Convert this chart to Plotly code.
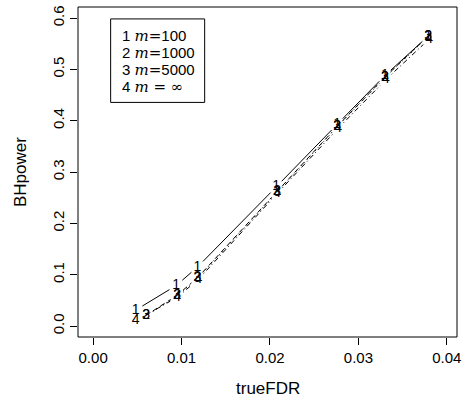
import numpy as np
import plotly.graph_objects as go

# Benjamini-Hochberg power against the true FDR for several numbers of tests m
series_labels = ["1", "2", "3", "4"]
legend_sizes = ["100", "1000", "5000", "∞"]

fdr_m100 = [0.0048, 0.0094, 0.0118, 0.0207, 0.0276, 0.0330, 0.0379]
pow_m100 = [0.031, 0.079, 0.115, 0.271, 0.393, 0.488, 0.565]

fdr_m1000 = [0.0060, 0.0095, 0.0118, 0.0208, 0.0276, 0.0330, 0.0379]
pow_m1000 = [0.021, 0.060, 0.094, 0.262, 0.389, 0.485, 0.565]

fdr_m5000 = [0.0060, 0.0095, 0.0118, 0.0208, 0.0276, 0.0330, 0.0379]
pow_m5000 = [0.020, 0.059, 0.093, 0.261, 0.388, 0.484, 0.564]

fdr_minf = [0.0048, 0.0095, 0.0119, 0.0208, 0.0277, 0.0331, 0.0380]
pow_minf = [0.010, 0.056, 0.091, 0.258, 0.385, 0.480, 0.559]

x_ticks = [0.00, 0.01, 0.02, 0.03, 0.04]
x_tick_text = ["0.00", "0.01", "0.02", "0.03", "0.04"]
y_ticks = [0.0, 0.1, 0.2, 0.3, 0.4, 0.5, 0.6]
y_tick_text = ["0.0", "0.1", "0.2", "0.3", "0.4", "0.5", "0.6"]

xs = [fdr_m100, fdr_m1000, fdr_m5000, fdr_minf]
ys = [pow_m100, pow_m1000, pow_m5000, pow_minf]
dashes = ["solid", "5px,4px", "1px,3px", "1px,3px,5px,3px"]

W, H = 466, 414
M_L, M_R, M_T, M_B = 78, 5, 5, 77
PW, PH = W - M_L - M_R, H - M_T - M_B
x_range = [-0.00171, 0.04115]
y_range = [-0.0213, 0.6215]
sx = PW / (x_range[1] - x_range[0])
sy = PH / (y_range[1] - y_range[0])
GAP = 8.0  # pixels left blank around each plotted number (type="b")

FONT = "Liberation Sans, Arial, Helvetica, sans-serif"

fig = go.Figure()

for lab, xv, yv, dash in zip(series_labels, xs, ys, dashes):
    # connecting segments, shortened so they stop short of each symbol
    lx, ly = [], []
    for i in range(len(xv) - 1):
        x0, y0, x1, y1 = xv[i], yv[i], xv[i + 1], yv[i + 1]
        dxp, dyp = (x1 - x0) * sx, (y1 - y0) * sy
        d = np.hypot(dxp, dyp)
        if d <= 2 * GAP:
            continue
        f = GAP / d
        lx += [x0 + (x1 - x0) * f, x1 - (x1 - x0) * f, None]
        ly += [y0 + (y1 - y0) * f, y1 - (y1 - y0) * f, None]
    fig.add_trace(go.Scatter(x=lx, y=ly, mode="lines",
                             line=dict(color="black", width=1, dash=dash),
                             hoverinfo="skip", showlegend=False))

for lab, xv, yv in zip(series_labels, xs, ys):
    fig.add_trace(go.Scatter(x=xv, y=yv, mode="text", text=[lab] * len(xv),
                             textposition="middle center",
                             textfont=dict(family=FONT, size=14, color="black"),
                             showlegend=False))

# plot frame
fig.add_shape(type="rect", xref="paper", yref="paper", x0=0, y0=0, x1=1, y1=1,
              line=dict(color="black", width=1))

# legend box with numbered entries
LEG_L, LEG_R, LEG_T, LEG_B = 111, 206, 17, 101
fig.add_shape(type="rect", xref="paper", yref="paper",
              x0=(LEG_L - M_L) / PW, x1=(LEG_R - M_L) / PW,
              y0=(H - M_B - LEG_B) / PH, y1=(H - M_B - LEG_T) / PH,
              line=dict(color="black", width=1), fillcolor="white")
for i, (lab, size) in enumerate(zip(series_labels, legend_sizes)):
    eq = "=" if size != "∞" else " = "
    txt = (f"{lab} <span style='font-family:DejaVu Serif'><i>m</i>{eq}</span>"
           + (size if size != "∞" else "<span style='font-family:DejaVu Serif'>∞</span>"))
    ty = 34 + i * 17
    fig.add_annotation(xref="paper", yref="paper", x=(120 - M_L) / PW,
                       y=(H - M_B - ty) / PH, xanchor="left", yanchor="middle",
                       text=txt, showarrow=False,
                       font=dict(family=FONT, size=15, color="black"))

# axis titles
fig.add_annotation(xref="paper", yref="paper", x=0.5, y=0, yshift=-51,
                   xanchor="center", yanchor="middle", text="trueFDR",
                   showarrow=False, font=dict(family=FONT, size=17, color="black"))
fig.add_annotation(xref="paper", yref="paper", x=0, y=0.5, xshift=-58,
                   xanchor="center", yanchor="middle", text="BHpower", textangle=-90,
                   showarrow=False, font=dict(family=FONT, size=17, color="black"))

axis_common = dict(showgrid=False, zeroline=False, showline=False, ticks="outside",
                   ticklen=7, tickwidth=1, tickcolor="black",
                   tickfont=dict(family=FONT, size=15, color="black"))
fig.update_xaxes(range=x_range, tickvals=x_ticks, ticktext=x_tick_text, **axis_common)
fig.update_yaxes(range=y_range, tickvals=y_ticks, ticktext=y_tick_text,
                 tickangle=-90, **axis_common)

fig.update_layout(width=W, height=H, margin=dict(l=M_L, r=M_R, t=M_T, b=M_B),
                  paper_bgcolor="white", plot_bgcolor="white", showlegend=False)

fig.write_html("out.html")
